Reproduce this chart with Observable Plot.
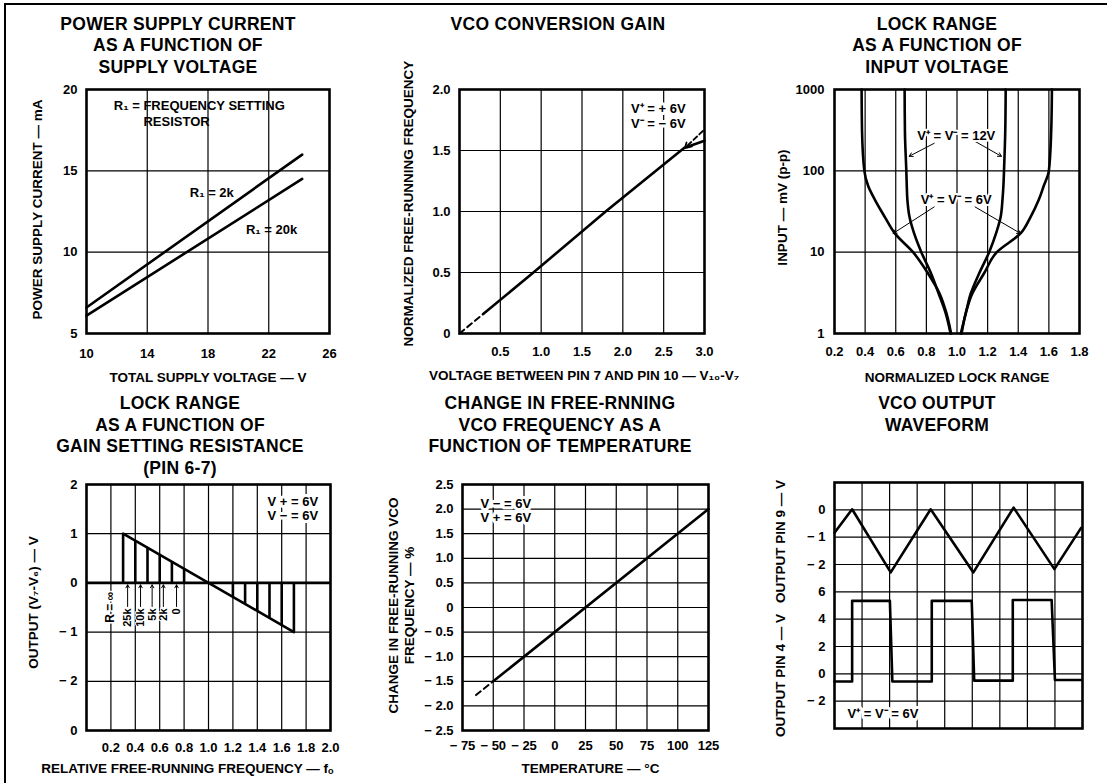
<!DOCTYPE html>
<html><head><meta charset="utf-8">
<script src="https://cdn.jsdelivr.net/npm/d3@7"></script>
<script src="https://cdn.jsdelivr.net/npm/@observablehq/plot@0.6"></script>
<style>
html,body{margin:0;padding:0;background:#fff;}
#page{position:relative;width:1107px;height:783px;overflow:hidden;background:#fff;font-family:'Liberation Sans',Arial,Helvetica,sans-serif;}
.title{position:absolute;text-align:center;font-weight:bold;font-size:17.5px;line-height:21.5px;letter-spacing:0.3px;transform:translateX(-50%);white-space:pre;color:#000;}
#border{position:absolute;left:4px;top:3px;width:1200px;height:900px;border-top:2px solid #000;border-left:2px solid #000;}
</style></head>
<body><div id="page"><div id="border"></div></div>
<script>
// ---------- Panel 1: power supply current vs supply voltage ----------
const supplyVoltage = [10, 24.2];
const current2k = [6.6, 16.0];
const current20k = [6.1, 14.5];
const p1XTicks = [10, 14, 18, 22, 26];
const p1YTicks = [5, 10, 15, 20];
const p1GridX = [14, 18, 22];
const p1GridY = [10, 15];

// ---------- Panel 2: VCO conversion gain ----------
const vcoVoltage = [0.29, 0.905, 1.79, 2.5, 2.75, 3.0];
const vcoFreq = [0.16, 0.5, 1.0, 1.385, 1.52, 1.58];
const vcoDashVoltage = [0, 0.29];
const vcoDashFreq = [0, 0.16];
const p2XTicks = [0.5, 1, 1.5, 2, 2.5, 3];
const p2XLabels = ["0.5", "1.0", "1.5", "2.0", "2.5", "3.0"];
const p2YTicks = [0, 0.5, 1, 1.5, 2];
const p2YLabels = ["0", "0.5", "1.0", "1.5", "2.0"];

// ---------- Panel 3: lock range vs input voltage ----------
const lockInput = [1000, 300, 100, 65, 44, 27, 17, 10, 5.5, 3.1, 1.8, 1];
const lockLeft6 = [0.377, 0.38, 0.395, 0.42, 0.464, 0.529, 0.594, 0.713, 0.81, 0.886, 0.93, 0.961];
const lockRight6 = [1.62, 1.615, 1.60, 1.566, 1.534, 1.48, 1.415, 1.26, 1.177, 1.10, 1.058, 1.03];
const lockLeft12 = [0.658, 0.66, 0.669, 0.672, 0.676, 0.69, 0.72, 0.767, 0.83, 0.88, 0.925, 0.958];
const lockRight12 = [1.318, 1.315, 1.307, 1.303, 1.297, 1.285, 1.255, 1.21, 1.145, 1.09, 1.058, 1.025];
const p3XTicks = [0.2, 0.4, 0.6, 0.8, 1.0, 1.2, 1.4, 1.6, 1.8];
const p3YTicks = [1, 10, 100, 1000];

// ---------- Panel 4: lock range vs gain setting resistance ----------
const relFreqLine = [0.3, 1.7];
const outputLine = [1, -1];
const barFreq = [0.3, 0.4, 0.5, 0.6, 0.7, 0.8, 1.2, 1.3, 1.4, 1.5, 1.6, 1.7];
const barOutput = [1.0, 0.86, 0.71, 0.57, 0.43, 0.29, -0.29, -0.43, -0.57, -0.71, -0.86, -1.0];
const resLabels = ["25k", "10k", "5k", "2k", "0"];
const resLabelFreq = [0.337, 0.443, 0.538, 0.63, 0.738];
const p4XTicks = [0.2, 0.4, 0.6, 0.8, 1.0, 1.2, 1.4, 1.6, 1.8, 2.0];
const p4YTicks = [-3, -2, -1, 0, 1, 2];
const p4YLabels = ["0", "\u2212 2", "\u2212 1", "0", "1", "2"];

// ---------- Panel 5: free-running frequency change vs temperature ----------
const temperature = [-50, 125];
const freqChange = [-1.5, 2.0];
const tempDash = [-64, -50];
const freqDash = [-1.78, -1.5];
const p5XTicks = [-75, -50, -25, 0, 25, 50, 75, 100, 125];
const p5XLabels = ["\u2212 75", "\u2212 50", "\u2212 25", "0", "25", "50", "75", "100", "125"];
const p5YTicks = [-2.5, -2, -1.5, -1, -0.5, 0, 0.5, 1, 1.5, 2, 2.5];
const p5YLabels = ["\u2212 2.5", "\u2212 2.0", "\u2212 1.5", "\u2212 1.0", "\u2212 0.5", "0", "0.5", "1.0", "1.5", "2.0", "2.5"];

// ---------- Panel 6: VCO output waveform (time in divisions, volts) ----------
const triTime = [0, 0.64, 2.04, 3.49, 5.04, 6.5, 7.98, 8.95];
const triVolts = [-0.84, 0.02, -2.29, 0.02, -2.29, 0.08, -2.17, -0.66];
const sqTime = [0, 0.64, 0.64, 2.01, 2.1, 3.53, 3.53, 4.98, 5.07, 6.47, 6.47, 7.88, 8.0, 8.95];
const sqVolts = [-0.56, -0.56, 5.34, 5.34, -0.56, -0.56, 5.34, 5.34, -0.5, -0.5, 5.4, 5.4, -0.45, -0.45];
const p6YTicks = [1, 2, 3, 4, 5, 6, 7, 8];
const p6YLabels = ["\u2212 2", "0", "2", "4", "6", "\u2212 2", "\u2212 1", "0"];

// ---------- helpers ----------
const FONT = "'Liberation Sans', Arial, Helvetica, sans-serif";
const page = document.getElementById("page");
const GRID = {stroke: "black", strokeOpacity: 1, strokeWidth: 1.2};
const LW = 2.6;
const zip = (xs, ys) => xs.map((x, i) => ({x, y: ys[i]}));
const style = {fontFamily: FONT, fontSize: "13px", fontWeight: "bold", background: "transparent", color: "black", overflow: "visible"};
function place(svg, left, top) {
  svg.style.position = "absolute";
  svg.style.left = left + "px";
  svg.style.top = top + "px";
  svg.style.maxWidth = "none";
  page.append(svg);
}
function title(lines, cx, top) {
  const d = document.createElement("div");
  d.className = "title";
  d.style.left = cx + "px";
  d.style.top = top + "px";
  d.textContent = lines.join("\n");
  page.append(d);
}
const xLabel = (t, dy, dx = 0) => Plot.text([t], {text: d => d, frameAnchor: "bottom", dy, dx, textAnchor: "middle", lineAnchor: "middle", fontSize: 13.5});
const yLabel = (t, dx, dy = 0) => Plot.text([t], {text: d => d, frameAnchor: "left", dx, dy, rotate: -90, textAnchor: "middle", lineAnchor: "middle", fontSize: 13.5});
const halo = {stroke: "white", strokeWidth: 6, fill: "black", textAnchor: "start", lineAnchor: "middle"};

// ---------- Panel 1 ----------
place(Plot.plot({
  width: 350, height: 310, marginLeft: 86, marginRight: 21, marginTop: 9, marginBottom: 57, style,
  x: {domain: [10, 26]}, y: {domain: [5, 20]},
  marks: [
    Plot.gridX(p1GridX, GRID), Plot.gridY(p1GridY, GRID),
    Plot.line(zip(supplyVoltage, current2k), {x: "x", y: "y", strokeWidth: LW}),
    Plot.line(zip(supplyVoltage, current20k), {x: "x", y: "y", strokeWidth: LW}),
    Plot.text(["R\u2081 = FREQUENCY SETTING"], {text: d => d, x: 11.8, y: 19.0, textAnchor: "start", lineAnchor: "middle"}),
    Plot.text(["RESISTOR"], {text: d => d, x: 13.75, y: 18.0, textAnchor: "start", lineAnchor: "middle"}),
    Plot.text(["R\u2081 = 2k"], {text: d => d, x: 16.8, y: 13.65, textAnchor: "start", lineAnchor: "middle"}),
    Plot.text(["R\u2081 = 20k"], {text: d => d, x: 20.5, y: 11.4, textAnchor: "start", lineAnchor: "middle"}),
    Plot.frame({stroke: "black", strokeWidth: LW}),
    Plot.axisX({ticks: p1XTicks, tickSize: 0, tickPadding: 15, label: null}),
    Plot.axisY({ticks: p1YTicks, tickSize: 0, tickPadding: 9, label: null}),
    xLabel("TOTAL SUPPLY VOLTAGE \u2014 V", 44),
    yLabel("POWER SUPPLY CURRENT \u2014 mA", -49, -2)
  ]
}), 0, 80);

// ---------- Panel 2 ----------
place(Plot.plot({
  width: 360, height: 310, marginLeft: 89, marginRight: 26, marginTop: 9, marginBottom: 57, style,
  x: {domain: [0, 3]}, y: {domain: [0, 2]},
  marks: [
    Plot.gridX([0.5, 1, 1.5, 2, 2.5], GRID), Plot.gridY([0.5, 1, 1.5], GRID),
    Plot.text(["V\u207A = + 6V"], {...halo, text: d => d, x: 2.1, y: 1.84}),
    Plot.text(["V\u207B = \u2212 6V"], {...halo, text: d => d, x: 2.1, y: 1.72}),
    Plot.line(zip(vcoVoltage, vcoFreq), {x: "x", y: "y", strokeWidth: LW}),
    Plot.line(zip(vcoDashVoltage, vcoDashFreq), {x: "x", y: "y", strokeWidth: 2, strokeDasharray: "6,4"}),
    Plot.arrow([{x1: 2.98, y1: 1.66, x2: 2.76, y2: 1.52}], {x1: "x1", y1: "y1", x2: "x2", y2: "y2", strokeWidth: 1.8, strokeDasharray: "5,3", headLength: 6}),
    Plot.frame({stroke: "black", strokeWidth: LW}),
    Plot.axisX({ticks: p2XTicks, tickFormat: d => p2XLabels[p2XTicks.indexOf(d)], tickSize: 0, tickPadding: 13, label: null}),
    Plot.axisY({ticks: p2YTicks, tickFormat: d => p2YLabels[p2YTicks.indexOf(d)], tickSize: 0, tickPadding: 9, label: null}),
    xLabel("VOLTAGE BETWEEN PIN 7 AND PIN 10 \u2014 V\u2081\u2080-V\u2087", 42, 2),
    yLabel("NORMALIZED FREE-RUNNING FREQUENCY", -51, -8)
  ]
}), 370, 80);

// ---------- Panel 3 ----------
place(Plot.plot({
  width: 370, height: 310, marginLeft: 97, marginRight: 28, marginTop: 9, marginBottom: 57, style,
  x: {domain: [0.2, 1.8]}, y: {type: "log", domain: [1, 1000]},
  marks: [
    Plot.gridX([0.4, 0.6, 0.8, 1.0, 1.2, 1.4, 1.6], GRID), Plot.gridY([10, 100], GRID),
    Plot.line(zip(lockLeft6, lockInput), {x: "x", y: "y", strokeWidth: LW, curve: "monotone-y"}),
    Plot.line(zip(lockRight6, lockInput), {x: "x", y: "y", strokeWidth: LW, curve: "monotone-y"}),
    Plot.line(zip(lockLeft12, lockInput), {x: "x", y: "y", strokeWidth: LW, curve: "monotone-y"}),
    Plot.line(zip(lockRight12, lockInput), {x: "x", y: "y", strokeWidth: LW, curve: "monotone-y"}),
    Plot.arrow([
      {x1: 0.851, y1: 218, x2: 0.688, y2: 151},
      {x1: 1.118, y1: 230, x2: 1.29, y2: 151},
      {x1: 0.851, y1: 36, x2: 0.583, y2: 17},
      {x1: 1.118, y1: 36, x2: 1.415, y2: 17}
    ], {x1: "x1", y1: "y1", x2: "x2", y2: "y2", strokeWidth: 1, headLength: 6}),
    Plot.text(["V\u207A = V\u207B = 12V"], {text: d => d, x: 0.995, y: 266, stroke: "white", strokeWidth: 4, fill: "black", lineAnchor: "middle"}),
    Plot.text(["V\u207A = V\u207B = 6V"], {text: d => d, x: 0.995, y: 44, stroke: "white", strokeWidth: 4, fill: "black", lineAnchor: "middle"}),
    Plot.frame({stroke: "black", strokeWidth: LW}),
    Plot.axisX({ticks: p3XTicks, tickFormat: d => d.toFixed(1), tickSize: 0, tickPadding: 13, label: null}),
    Plot.axisY({ticks: p3YTicks, tickFormat: d => String(d), tickSize: 0, tickPadding: 10, label: null}),
    xLabel("NORMALIZED LOCK RANGE", 44),
    yLabel("INPUT \u2014 mV (p-p)", -52, -4)
  ]
}), 737, 80);

// ---------- Panel 4 ----------
place(Plot.plot({
  width: 360, height: 308, marginLeft: 86, marginRight: 30, marginTop: 9, marginBottom: 53, style,
  x: {domain: [0, 2]}, y: {domain: [-3, 2]},
  marks: [
    Plot.gridX([0.2, 0.4, 0.6, 0.8, 1.0, 1.2, 1.4, 1.6, 1.8], GRID), Plot.gridY([-2, -1, 1], GRID),
    Plot.text(["V + = 6V"], {...halo, text: d => d, x: 1.484, y: 1.65}),
    Plot.text(["V \u2212 = 6V"], {...halo, text: d => d, x: 1.484, y: 1.37}),
    Plot.ruleY([0], {strokeWidth: LW}),
    Plot.ruleX(zip(barFreq, barOutput), {x: "x", y1: 0, y2: "y", strokeWidth: LW}),
    Plot.line(zip(relFreqLine, outputLine), {x: "x", y: "y", strokeWidth: LW}),
    Plot.text(["R = \u221E"], {text: d => d, x: 0.19, y: -0.18, rotate: -90, textAnchor: "end", lineAnchor: "middle", fontSize: 12, stroke: "white", strokeWidth: 3, fill: "black"}),
    Plot.text(resLabels, {text: d => d, x: (d, i) => resLabelFreq[i], y: -0.52, rotate: -90, textAnchor: "end", lineAnchor: "middle", fontSize: 11, stroke: "white", strokeWidth: 2, fill: "black"}),
    Plot.arrow(resLabelFreq, {x1: d => d, x2: d => d, y1: -0.48, y2: -0.04, strokeWidth: 1, headLength: 5}),
    Plot.frame({stroke: "black", strokeWidth: LW}),
    Plot.axisX({ticks: p4XTicks, tickFormat: d => d.toFixed(1), tickSize: 0, tickPadding: 12, label: null}),
    Plot.axisY({ticks: p4YTicks, tickFormat: d => p4YLabels[p4YTicks.indexOf(d)], tickSize: 0, tickPadding: 9, label: null}),
    xLabel("RELATIVE FREE-RUNNING FREQUENCY \u2014 f\u2092", 38, -21),
    yLabel("OUTPUT (V\u2087-V\u2086) \u2014 V", -53, -5)
  ]
}), 0, 475);

// ---------- Panel 5 ----------
place(Plot.plot({
  width: 370, height: 308, marginLeft: 92, marginRight: 32, marginTop: 9, marginBottom: 53, style,
  x: {domain: [-75, 125]}, y: {domain: [-2.5, 2.5]},
  marks: [
    Plot.gridX([-50, -25, 0, 25, 50, 75, 100], GRID), Plot.gridY([-2, -1.5, -1, -0.5, 0, 0.5, 1, 1.5, 2], GRID),
    Plot.text(["V \u2212 = 6V"], {...halo, text: d => d, x: -60.4, y: 2.11}),
    Plot.text(["V + = 6V"], {...halo, text: d => d, x: -60.4, y: 1.82}),
    Plot.line(zip(temperature, freqChange), {x: "x", y: "y", strokeWidth: LW}),
    Plot.line(zip(tempDash, freqDash), {x: "x", y: "y", strokeWidth: 2, strokeDasharray: "6,4"}),
    Plot.frame({stroke: "black", strokeWidth: LW}),
    Plot.axisX({ticks: p5XTicks, tickFormat: d => p5XLabels[p5XTicks.indexOf(d)], tickSize: 0, tickPadding: 10, label: null}),
    Plot.axisY({ticks: p5YTicks, tickFormat: d => p5YLabels[p5YTicks.indexOf(d)], tickSize: 0, tickPadding: 9, label: null}),
    xLabel("TEMPERATURE \u2014 \u00B0C", 38, 5),
    Plot.text(["CHANGE IN FREE-RUNNING VCO\nFREQUENCY \u2014 %"], {text: d => d, frameAnchor: "left", dx: -62, dy: -2, rotate: -90, textAnchor: "middle", lineAnchor: "middle", fontSize: 13.5, lineHeight: 1.2})
  ]
}), 370, 475);

// ---------- Panel 6 ----------
place(Plot.plot({
  width: 367, height: 308, marginLeft: 94, marginRight: 25, marginTop: 7, marginBottom: 55, style,
  x: {domain: [0, 9]}, y: {domain: [0, 9]},
  marks: [
    Plot.gridX([1, 2, 3, 4, 5, 6, 7, 8], GRID), Plot.gridY([1, 2, 3, 4, 5, 6, 7, 8], GRID),
    Plot.text(["V\u207A = V\u207B = 6V"], {...halo, text: d => d, x: 0.47, y: 0.55}),
    Plot.line(zip(triTime, triVolts), {x: "x", y: d => 8 + d.y, strokeWidth: LW}),
    Plot.line(zip(sqTime, sqVolts), {x: "x", y: d => 2 + d.y / 2, strokeWidth: LW}),
    Plot.frame({stroke: "black", strokeWidth: LW}),
    Plot.axisX({ticks: [], label: null}),
    Plot.axisY({ticks: p6YTicks, tickFormat: d => p6YLabels[p6YTicks.indexOf(d)], tickSize: 0, tickPadding: 9, label: null}),
    Plot.text(["OUTPUT PIN 9 \u2014 V"], {text: d => d, frameAnchor: "left", dx: -54, dy: -64, rotate: -90, textAnchor: "middle", lineAnchor: "middle", fontSize: 13.5}),
    Plot.text(["OUTPUT PIN 4 \u2014 V"], {text: d => d, frameAnchor: "left", dx: -54, dy: 70, rotate: -90, textAnchor: "middle", lineAnchor: "middle", fontSize: 13.5})
  ]
}), 740, 475);

// ---------- Titles ----------
title(["POWER SUPPLY CURRENT", "AS A FUNCTION OF", "SUPPLY VOLTAGE"], 178, 13.5);
title(["VCO CONVERSION GAIN"], 558, 13.5);
title(["LOCK RANGE", "AS A FUNCTION OF", "INPUT VOLTAGE"], 937, 13.5);
title(["LOCK RANGE", "AS A FUNCTION OF", "GAIN SETTING RESISTANCE", "(PIN 6-7)"], 180, 393);
title(["CHANGE IN FREE-RNNING", "VCO FREQUENCY AS A", "FUNCTION OF TEMPERATURE"], 560, 393);
title(["VCO OUTPUT", "WAVEFORM"], 937, 393);
</script>
</body></html>
